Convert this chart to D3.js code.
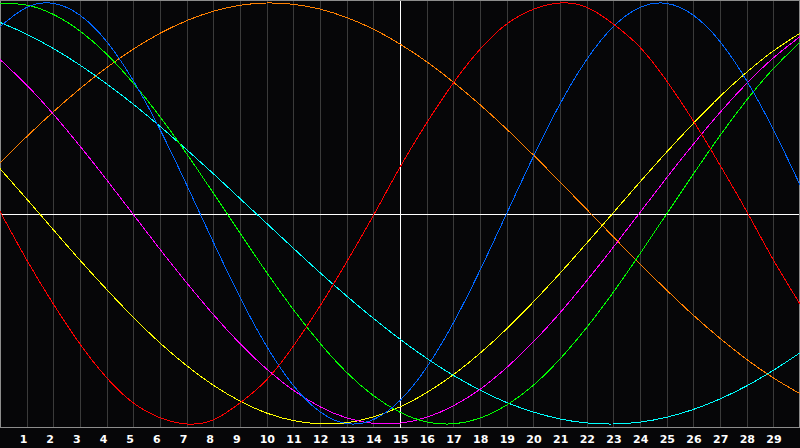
<!DOCTYPE html>
<html>
<head>
<meta charset="utf-8">
<script src="https://cdn.jsdelivr.net/npm/d3@7"></script>
<style>
  html, body { margin: 0; padding: 0; background: #060608; }
  svg { display: block; }
</style>
</head>
<body>
<div id="chart"></div>
<script>
// biorhythm style chart, one value per day (day 0 .. 30)

const width = 800;
const height = 448;
const plotBottom = 427.5;

const days = d3.range(0, 31);
const tickDays = d3.range(1, 30);
const todayDay = 15;

// values, -1 .. 1
const redVals = [0.01, -0.22, -0.43, -0.62, -0.78, -0.90, -0.97, -1.00, -0.98, -0.90, -0.79, -0.63, -0.44, -0.23, -0.01,
  0.22, 0.43, 0.62, 0.78, 0.90, 0.97, 1.00, 0.98, 0.90, 0.79, 0.63, 0.44, 0.23, 0.01, -0.22, -0.43];
const blueVals = [0.888, 0.979, 0.998, 0.942, 0.817, 0.631, 0.399, 0.136, -0.136, -0.398, -0.631, -0.817, -0.942, -0.998, -0.979,
  -0.888, -0.731, -0.520, -0.270, 0.000, 0.270, 0.520, 0.731, 0.888, 0.979, 0.998, 0.942, 0.817, 0.631, 0.399, 0.136];
const greenVals = [0.999, 0.990, 0.946, 0.867, 0.757, 0.619, 0.460, 0.284, 0.097, -0.093, -0.280, -0.456, -0.616, -0.755, -0.865,
  -0.944, -0.990, -0.999, -0.972, -0.910, -0.816, -0.691, -0.542, -0.374, -0.191, -0.002, 0.187, 0.370, 0.539, 0.688, 0.814];
const cyanVals = [0.908, 0.852, 0.784, 0.705, 0.616, 0.519, 0.414, 0.303, 0.189, 0.071, -0.047, -0.165, -0.281, -0.392, -0.498,
  -0.597, -0.688, -0.769, -0.839, -0.898, -0.943, -0.976, -0.995, -1.000, -0.991, -0.968, -0.931, -0.881, -0.819, -0.745, -0.662];
const orangeVals = [0.240, 0.365, 0.483, 0.593, 0.693, 0.781, 0.856, 0.916, 0.961, 0.989, 1.000, 0.994, 0.971, 0.931, 0.876,
  0.805, 0.721, 0.624, 0.517, 0.401, 0.278, 0.150, 0.020, -0.111, -0.240, -0.364, -0.483, -0.593, -0.693, -0.781, -0.856];
const magentaVals = [0.732, 0.610, 0.472, 0.320, 0.160, -0.005, -0.170, -0.329, -0.480, -0.618, -0.739, -0.840, -0.918, -0.971, -0.997,
  -0.996, -0.968, -0.914, -0.835, -0.732, -0.610, -0.472, -0.320, -0.160, 0.005, 0.170, 0.329, 0.480, 0.618, 0.739, 0.840];
const yellowVals = [0.213, 0.069, -0.077, -0.222, -0.361, -0.493, -0.615, -0.723, -0.816, -0.891, -0.948, -0.984, -0.999, -0.994, -0.966,
  -0.919, -0.851, -0.766, -0.664, -0.548, -0.420, -0.284, -0.141, 0.004, 0.150, 0.292, 0.428, 0.556, 0.671, 0.772, 0.856];

const series = [
  { name: "orange", color: "#ff8000", values: orangeVals },
  { name: "cyan", color: "#00ffff", values: cyanVals },
  { name: "yellow", color: "#ffff00", values: yellowVals },
  { name: "magenta", color: "#ff00ff", values: magentaVals },
  { name: "green", color: "#00ff00", values: greenVals },
  { name: "blue", color: "#0066ff", values: blueVals },
  { name: "red", color: "#ff0000", values: redVals }
];

const svg = d3.select("#chart")
  .append("svg")
  .attr("width", width)
  .attr("height", height)
  .attr("viewBox", [0, 0, width, height]);

svg.append("rect")
  .attr("width", width)
  .attr("height", height)
  .attr("fill", "#060608");

// scales
const xScale = d3.scaleLinear()
  .domain([0, 30])
  .range([0, width]);

const yScale = d3.scaleLinear()
  .domain([-1, 1])
  .range([424, 3]);

const px = v => Math.round(v) + 0.5;

// day grid
svg.append("g")
  .selectAll("line")
  .data(tickDays.filter(d => d !== todayDay))
  .join("line")
    .attr("x1", d => px(xScale(d)))
    .attr("x2", d => px(xScale(d)))
    .attr("y1", 0)
    .attr("y2", plotBottom)
    .attr("stroke", "#3a3a3a")
    .attr("shape-rendering", "crispEdges");

// frame
svg.append("rect")
  .attr("x", 0.5)
  .attr("y", 0.5)
  .attr("width", width - 1)
  .attr("height", plotBottom - 0.5)
  .attr("fill", "none")
  .attr("stroke", "#8c8c8c")
  .attr("shape-rendering", "crispEdges");

// zero line and today line
svg.append("line")
  .attr("x1", 1).attr("x2", width - 1)
  .attr("y1", px(yScale(0))).attr("y2", px(yScale(0)))
  .attr("stroke", "#ffffff")
  .attr("shape-rendering", "crispEdges");

svg.append("line")
  .attr("x1", px(xScale(todayDay))).attr("x2", px(xScale(todayDay)))
  .attr("y1", 1).attr("y2", plotBottom)
  .attr("stroke", "#ffffff")
  .attr("shape-rendering", "crispEdges");

// curves
const line = d3.line()
  .x((v, i) => xScale(days[i]))
  .y(v => yScale(v))
  .curve(d3.curveNatural);

svg.append("g")
  .selectAll("path")
  .data(series)
  .join("path")
    .attr("d", d => line(d.values))
    .attr("fill", "none")
    .attr("stroke", d => d.color)
    .attr("stroke-width", 1)
    .attr("shape-rendering", "crispEdges");

// day labels
svg.append("g")
  .selectAll("text")
  .data(tickDays)
  .join("text")
    .attr("x", d => xScale(d) - 7)
    .attr("y", 443)
    .attr("fill", "#ffffff")
    .attr("font-family", "DejaVu Sans, Verdana, sans-serif")
    .attr("font-weight", "bold")
    .attr("font-size", "11px")
    .text(d => d);
</script>
</body>
</html>
